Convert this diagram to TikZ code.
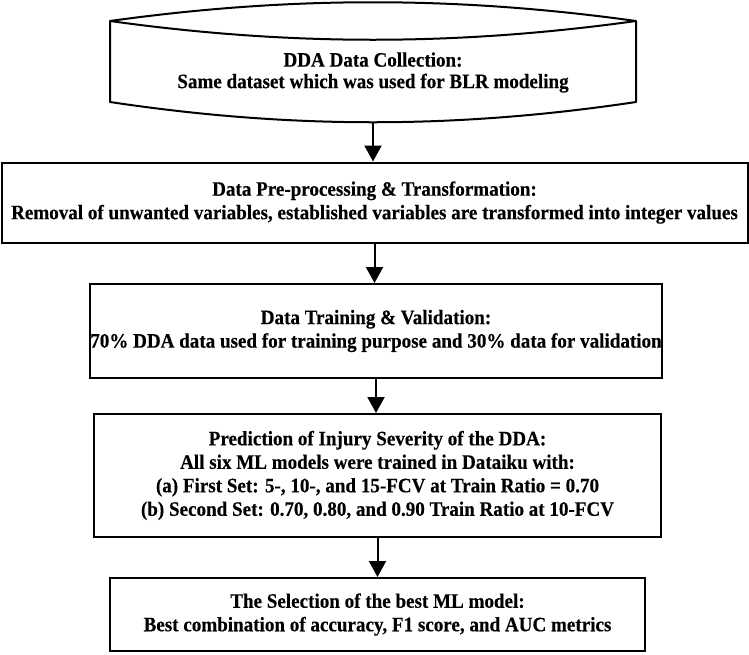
\documentclass[tikz,border=0pt]{standalone}
\usepackage{fontspec}
\setmainfont{Liberation Serif}[FakeStretch=0.93, BoldFeatures={FakeBold=0.3}]
\usetikzlibrary{arrows.meta}

\begin{document}
\begin{tikzpicture} [x=1pt, y=-1pt,
  box/.style={draw, black, line width=2pt, inner sep=0pt, align=center,
    font=\fontsize{20.5}{23.5}\selectfont\bfseries},
  flow/.style={black, line width=2pt, -{Triangle[width=17pt, length=16pt]}}]
\useasboundingbox (0,0) rectangle (749,654);

% data store on top
\coordinate (L) at (110, 21);
\coordinate (R) at (636, 21);
\coordinate (BL) at (110, 102);
\coordinate (BR) at (636, 102);
\coordinate (collect-s) at (373, 122);
\draw[black, line width=2pt, line join=round] (L) .. controls (290,-4) and (456,-4) .. (R) -- (BR)
  .. controls (456,129) and (290,129) .. (BL) -- cycle;
\draw[black, line width=2pt] (L) .. controls (290,46) and (456,46) .. (R);
\node[box, draw=none, font=\fontsize{20.5}{21.5}\selectfont\bfseries] (collect) at (373, 72.5)
  {DDA Data Collection:\\Same dataset which was used for BLR modeling};

\node[box, minimum width=746, minimum height=80] (prep) at (374.5, 202.5)
  {Data Pre-processing \& Transformation:\\Removal of unwanted variables, established variables are transformed into integer values};
\node[box, minimum width=570, minimum height=94] (train) at (376, 331)
  {Data Training \& Validation:\\70\% DDA data used for training purpose and 30\% data for validation};
\node[box, minimum width=567, minimum height=123] (predict) at (377.5, 475.5)
  {Prediction of Injury Severity of the DDA:\\All six ML models were trained in Dataiku with:\\(a) First Set: 5-, 10-, and 15-FCV at Train Ratio = 0.70\\(b) Second Set: 0.70, 0.80, and 0.90 Train Ratio at 10-FCV};
\node[box, minimum width=535, minimum height=73] (select) at (377.5, 614.5)
  {The Selection of the best ML model:\\Best combination of accuracy, F1 score, and AUC metrics};

\draw[flow] (collect-s) -- (collect-s |- prep.north);
\draw[flow] (prep.south) -- (prep.south |- train.north);
\draw[flow] (train.south) -- (train.south |- predict.north);
\draw[flow] (predict.south) -- (predict.south |- select.north);

\end{tikzpicture}
\end{document}
